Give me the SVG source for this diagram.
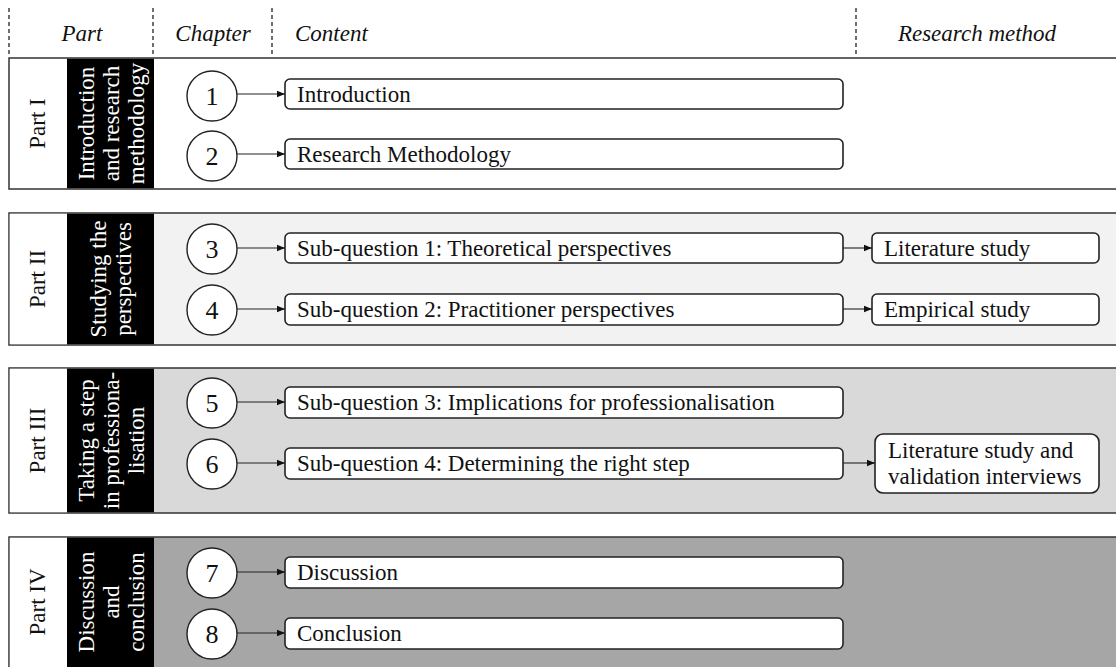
<svg xmlns="http://www.w3.org/2000/svg" width="1116" height="667" viewBox="0 0 1116 667" font-family="'Liberation Serif', 'DejaVu Serif', serif">
  <defs>
    <marker id="arrow" viewBox="0 0 10 10" refX="10" refY="5" markerWidth="8" markerHeight="8" markerUnits="userSpaceOnUse" orient="auto">
      <path d="M0,1 L10,5 L0,9 z" fill="#111"/>
    </marker>
    <style>
      text { font-family: 'Liberation Serif', 'DejaVu Serif', serif; }
      .hdr { font-style: italic; font-size: 23px; fill: #111; }
      .dash { stroke: #222; stroke-width: 1.3; stroke-dasharray: 4 3; }
      .band { stroke: #333; stroke-width: 1.5; }
      .partcol { fill: #fff; stroke: none; }
      .themecol { fill: #000; }
      .partlbl { font-size: 23px; fill: #111; text-anchor: middle; }
      .theme { font-size: 23px; fill: #fff; text-anchor: middle; }
      .chap { fill: #fff; stroke: #222; stroke-width: 1.4; }
      .num { font-size: 26px; fill: #111; text-anchor: middle; }
      .box { fill: #fff; stroke: #222; stroke-width: 1.6; }
      .btxt { font-size: 23px; fill: #111; }
      .conn { stroke: #222; stroke-width: 1.1; fill: none; marker-end: url(#arrow); }
    </style>
  </defs>

  <rect x="0" y="0" width="1116" height="667" fill="#fff"/>

  <!-- column headings -->
  <g id="header">
    <line class="dash" x1="9" y1="8" x2="9" y2="57"/>
    <line class="dash" x1="153" y1="8" x2="153" y2="57"/>
    <line class="dash" x1="272" y1="8" x2="272" y2="57"/>
    <line class="dash" x1="856" y1="8" x2="856" y2="57"/>
    <text class="hdr" x="82" y="41" text-anchor="middle">Part</text>
    <text class="hdr" x="213" y="41" text-anchor="middle">Chapter</text>
    <text class="hdr" x="295" y="41">Content</text>
    <text class="hdr" x="977" y="41" text-anchor="middle">Research method</text>
  </g>

  <!-- Part I -->
  <g id="part1">
    <rect class="band" x="9" y="58" width="1120" height="131" fill="#fff"/>
    <rect class="themecol" x="67" y="58.75" width="87" height="129.5"/>
    <text class="partlbl" transform="translate(45,123.5) rotate(-90)">Part I</text>
    <text class="theme" transform="translate(94,123.5) rotate(-90)">Introduction</text>
    <text class="theme" transform="translate(119,123.5) rotate(-90)">and research</text>
    <text class="theme" transform="translate(144,123.5) rotate(-90)">methodology</text>
  </g>

  <!-- Part II -->
  <g id="part2">
    <rect class="band" x="9" y="213" width="1120" height="132" fill="#f2f2f2"/>
    <rect class="partcol" x="9.75" y="213.75" width="57.25" height="130.5"/>
    <rect class="themecol" x="67" y="213.75" width="87" height="130.5"/>
    <text class="partlbl" transform="translate(45,279) rotate(-90)">Part II</text>
    <text class="theme" transform="translate(106,279) rotate(-90)">Studying the</text>
    <text class="theme" transform="translate(131,279) rotate(-90)">perspectives</text>
  </g>

  <!-- Part III -->
  <g id="part3">
    <rect class="band" x="9" y="368" width="1120" height="145" fill="#d9d9d9"/>
    <rect class="partcol" x="9.75" y="368.75" width="57.25" height="143.5"/>
    <rect class="themecol" x="67" y="368.75" width="87" height="143.5"/>
    <text class="partlbl" transform="translate(45,440.5) rotate(-90)">Part III</text>
    <text class="theme" transform="translate(94,440.5) rotate(-90)">Taking a step</text>
    <text class="theme" transform="translate(119,440.5) rotate(-90)">in professiona-</text>
    <text class="theme" transform="translate(144,440.5) rotate(-90)">lisation</text>
  </g>

  <!-- Part IV -->
  <g id="part4">
    <rect class="band" x="9" y="537" width="1120" height="140" fill="#a6a6a6"/>
    <rect class="partcol" x="9.75" y="537.75" width="57.25" height="135"/>
    <rect class="themecol" x="67" y="537.75" width="87" height="135"/>
    <text class="partlbl" transform="translate(45,602) rotate(-90)">Part IV</text>
    <text class="theme" transform="translate(94,602) rotate(-90)">Discussion</text>
    <text class="theme" transform="translate(119,602) rotate(-90)">and</text>
    <text class="theme" transform="translate(144,602) rotate(-90)">conclusion</text>
  </g>

  <!-- chapters -->
  <g id="ch1"><ellipse class="chap" cx="212" cy="96" rx="25" ry="25"/><text class="num" x="212" y="105">1</text></g>
  <g id="ch2"><ellipse class="chap" cx="212" cy="156" rx="25" ry="25"/><text class="num" x="212" y="165">2</text></g>
  <g id="ch3"><ellipse class="chap" cx="212" cy="249" rx="25" ry="25"/><text class="num" x="212" y="258">3</text></g>
  <g id="ch4"><ellipse class="chap" cx="212" cy="310" rx="25" ry="25"/><text class="num" x="212" y="319">4</text></g>
  <g id="ch5"><ellipse class="chap" cx="212" cy="403" rx="25" ry="25"/><text class="num" x="212" y="412">5</text></g>
  <g id="ch6"><ellipse class="chap" cx="212" cy="464" rx="25" ry="25"/><text class="num" x="212" y="473">6</text></g>
  <g id="ch7"><ellipse class="chap" cx="212" cy="573" rx="25" ry="25"/><text class="num" x="212" y="582">7</text></g>
  <g id="ch8"><ellipse class="chap" cx="212" cy="634" rx="25" ry="25"/><text class="num" x="212" y="643">8</text></g>

  <!-- content boxes -->
  <g id="c1"><rect class="box" x="285" y="79" width="558" height="30" rx="5"/><text class="btxt" x="297" y="102">Introduction</text></g>
  <g id="c2"><rect class="box" x="285" y="139" width="558" height="30" rx="5"/><text class="btxt" x="297" y="162">Research Methodology</text></g>
  <g id="c3"><rect class="box" x="285" y="233" width="558" height="30" rx="5"/><text class="btxt" x="297" y="256">Sub-question 1: Theoretical perspectives</text></g>
  <g id="c4"><rect class="box" x="285" y="294" width="558" height="31" rx="5"/><text class="btxt" x="297" y="317">Sub-question 2: Practitioner perspectives</text></g>
  <g id="c5"><rect class="box" x="285" y="387" width="558" height="31" rx="5"/><text class="btxt" x="297" y="410">Sub-question 3: Implications for professionalisation</text></g>
  <g id="c6"><rect class="box" x="285" y="448" width="558" height="31" rx="5"/><text class="btxt" x="297" y="471">Sub-question 4: Determining the right step</text></g>
  <g id="c7"><rect class="box" x="285" y="557" width="558" height="31" rx="5"/><text class="btxt" x="297" y="580">Discussion</text></g>
  <g id="c8"><rect class="box" x="285" y="618" width="558" height="31" rx="5"/><text class="btxt" x="297" y="641">Conclusion</text></g>

  <!-- research method boxes -->
  <g id="m3"><rect class="box" x="872" y="233" width="227" height="30" rx="5"/><text class="btxt" x="884" y="256">Literature study</text></g>
  <g id="m4"><rect class="box" x="872" y="294" width="227" height="31" rx="5"/><text class="btxt" x="884" y="317">Empirical study</text></g>
  <g id="m6"><rect class="box" x="875" y="434" width="224" height="59" rx="8"/><text class="btxt" x="888" y="458">Literature study and</text><text class="btxt" x="888" y="484">validation interviews</text></g>

  <!-- connectors -->
  <g id="connectors">
    <line class="conn" x1="237" y1="94" x2="285" y2="94"/>
    <line class="conn" x1="237" y1="154" x2="285" y2="154"/>
    <line class="conn" x1="237" y1="248" x2="285" y2="248"/>
    <line class="conn" x1="237" y1="309" x2="285" y2="309"/>
    <line class="conn" x1="237" y1="402" x2="285" y2="402"/>
    <line class="conn" x1="237" y1="463" x2="285" y2="463"/>
    <line class="conn" x1="237" y1="572" x2="285" y2="572"/>
    <line class="conn" x1="237" y1="633" x2="285" y2="633"/>
    <line class="conn" x1="843" y1="248" x2="872" y2="248"/>
    <line class="conn" x1="843" y1="309" x2="872" y2="309"/>
    <line class="conn" x1="843" y1="463" x2="875" y2="463"/>
  </g>
</svg>
